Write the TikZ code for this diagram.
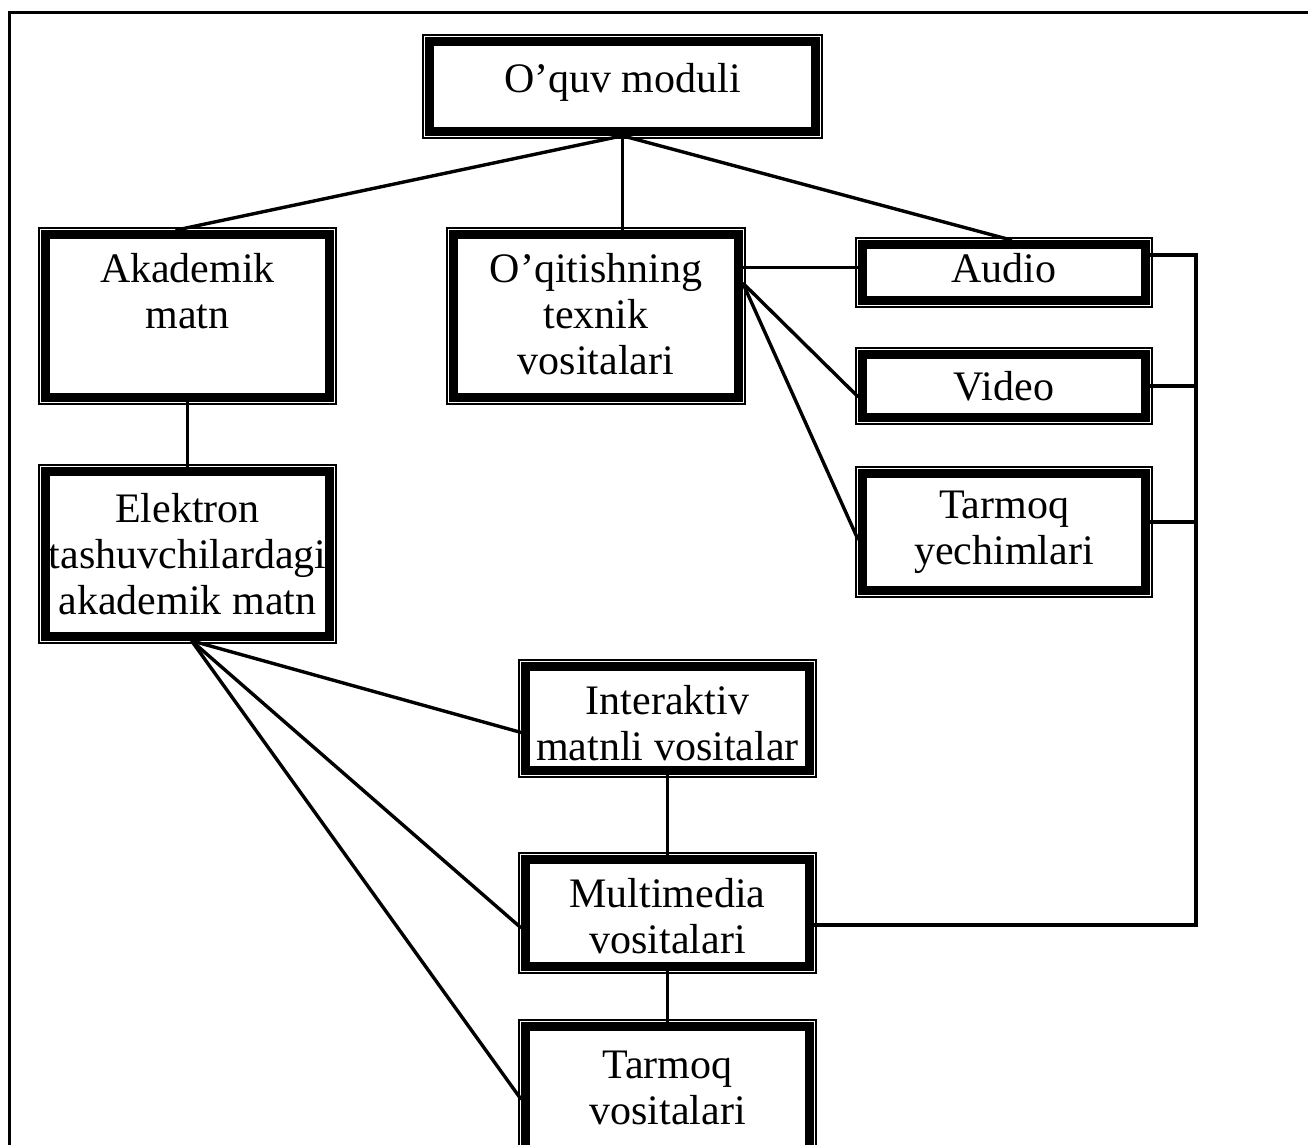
\documentclass[tikz,border=0pt]{standalone}
\usepackage{fontspec}
\setmainfont{Liberation Serif}
\tikzset{
  thinb/.style={line width=1.8pt},
  thickb/.style={draw, line width=8.5pt, inner sep=0pt, rectangle},
  conn/.style={line width=3.4pt},
  frameline/.style={line width=3pt},
  txt/.style={font=\fontsize{42}{46}\selectfont, align=center, inner sep=0pt, anchor=north}
}
% name, x1, y1, x2, y2 (outer edge, pixel coords)
\newcommand{\dbox}[5]{%
  \draw[thinb] (#2+0.9,#3+0.9) rectangle (#4-0.9,#5-0.9);
  \node[thickb, minimum width={#4-#2-15}, minimum height={#5-#3-15}] (#1) at ({(#2+#4)/2},{(#3+#5)/2}) {};
}
\begin{document}
\begin{tikzpicture}[x=1pt,y=-1pt]
\useasboundingbox (0,0) rectangle (1308,1144);
\clip (0,0) rectangle (1308,1144);
% frame
\draw[frameline] (9,1150) -- (9,12) -- (1310,12);
% boxes
\dbox{moduli}{422}{34}{823}{139}
\dbox{akad}{38}{227}{337}{405}
\dbox{texv}{446}{227}{746}{405}
\dbox{audio}{855}{237}{1153}{308}
\dbox{video}{855}{347}{1153}{425}
\dbox{tarmy}{855}{466}{1153}{598}
\dbox{elek}{38}{464}{337}{644}
\dbox{inter}{518}{659}{817}{778}
\dbox{multi}{518}{852}{817}{974}
\dbox{tarmv}{518}{1019}{817}{1170}
% texts
\node[txt] (tmoduli) at (622.5,92-29) {O’quv moduli};
\node[txt] (takad) at (187.5,282-29) {Akademik\\matn};
\node[txt] (ttexv) at (596,282-29) {O’qitishning\\texnik\\vositalari};
\node[txt] (taudio) at (1004,282-29) {Audio};
\node[txt] (tvideo) at (1004,400-29) {Video};
\node[txt] (ttarmy) at (1004,520-29) {Tarmoq\\yechimlari};
\node[txt] (telek) at (187.5,522-29) {Elektron\\tashuvchilardagi\\akademik matn};
\node[txt] (tinter) at (667.5,714-29) {Interaktiv\\matnli vositalar};
\node[txt] (tmulti) at (667.5,907-29) {Multimedia\\vositalari};
\node[txt] (ttarmv) at (667.5,1080-29) {Tarmoq\\vositalari};
% connectors
\draw[conn] (moduli.south) -- ([xshift=-12pt]akad.north);
\draw[conn] (moduli.south) -- (moduli.south |- texv.north);
\draw[conn] (moduli.south) -- ([xshift=8pt]audio.north);
\draw[conn] (akad.south) -- (elek.north);
\draw[conn] ([yshift=5pt]audio.west -| texv.east) -- ([yshift=5pt]audio.west);
\coordinate (fan) at ([yshift=33pt]texv.east);
\draw[conn] (fan) -- ([yshift=-11pt]video.west);
\draw[conn] (fan) -- ([yshift=-8pt]tarmy.west);
\coordinate (bt) at (1196,255);
\coordinate (bb) at (1196,925);
\draw[conn] ([yshift=17.5pt]audio.east) -- (bt) -- (bb) -- (bb -| multi.east);
\draw[conn] (video.east) -- (video.east -| bt);
\draw[conn] ([yshift=10pt]tarmy.east) -- ([yshift=10pt]tarmy.east -| bt);
\coordinate (efan) at ([xshift=4pt]elek.south);
\draw[conn] (efan) -- ([yshift=-14pt]inter.west);
\draw[conn] (efan) -- ([yshift=-15pt]multi.west);
\draw[conn] (efan) -- ([yshift=-5pt]tarmv.west);
\draw[conn] (inter.south) -- (multi.north);
\draw[conn] (multi.south) -- (tarmv.north);
\end{tikzpicture}
\end{document}
